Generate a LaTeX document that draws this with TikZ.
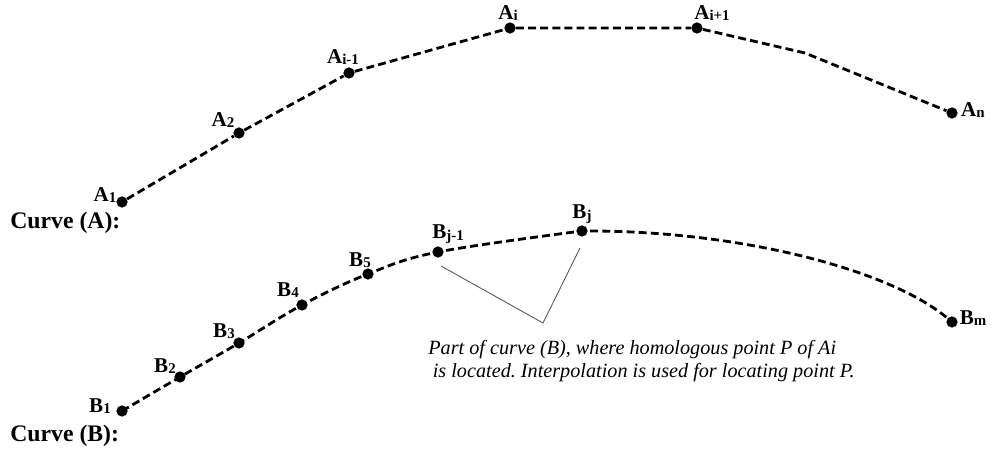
\documentclass[tikz,border=0pt]{standalone}
\usepackage{fontspec}
\setmainfont{Liberation Serif}
\usetikzlibrary{positioning}

\newcommand{\ptlab}[2]{#1\raisebox{-0.15ex}{\fontsize{8.5}{8.5}\selectfont #2}}

\begin{document}
\frenchspacing
\begin{tikzpicture}[x=0.02cm, y=-0.02cm,
    dot/.style={circle, fill=black, inner sep=0pt, minimum size=6.4pt},
    lbl/.style={font=\bfseries\fontsize{12}{12}\selectfont, inner sep=0pt},
    curveline/.style={line width=1.6pt, dash pattern=on 4.5pt off 2.4pt},
    ttl/.style={font=\bfseries\fontsize{13.5}{13.5}\selectfont, inner sep=0pt, anchor=west}]
    \useasboundingbox (0, 0) rectangle (992, 452);

    % curve (A)
    \node[dot] (A1) at (122, 202) {};
    \node[dot] (A2) at (239, 133) {};
    \node[dot] (Ai1) at (349, 73) {};
    \node[dot] (Ai) at (510, 28) {};
    \node[dot] (Aip) at (697, 28) {};
    \coordinate (ak) at (805, 53);
    \node[dot] (An) at (952, 113) {};

    \node[lbl] (lA1) at (105, 195) {\ptlab{A}{1}};
    \node[lbl] (lA2) at (223, 120) {\ptlab{A}{2}};
    \node[lbl] (lAi1) at (343, 57) {\ptlab{A}{i-1}};
    \node[lbl] (lAi) at (508, 13) {\ptlab{A}{i}};
    \node[lbl] (lAip) at (712, 13) {\ptlab{A}{i+1}};
    \node[lbl] (lAn) at (973, 110) {\ptlab{A}{n}};

    \draw[curveline] (A1) -- (A2) -- (Ai1) -- (Ai) -- (Aip) -- (ak) -- (An);

    % curve (B)
    \node[dot] (B1) at (122, 411) {};
    \node[dot] (B2) at (180, 377) {};
    \node[dot] (B3) at (239, 343) {};
    \node[dot] (B4) at (302, 305) {};
    \node[dot] (B5) at (368, 274) {};
    \node[dot] (Bj1) at (438, 252) {};
    \node[dot] (Bj) at (582, 231) {};
    \coordinate (bq1) at (740, 230);
    \coordinate (bq2) at (890, 270);
    \node[dot] (Bm) at (952, 322) {};

    \node[lbl] (lB1) at (100, 406) {\ptlab{B}{1}};
    \node[lbl] (lB2) at (165, 366) {\ptlab{B}{2}};
    \node[lbl] (lB3) at (224, 331) {\ptlab{B}{3}};
    \node[lbl] (lB4) at (288, 290) {\ptlab{B}{4}};
    \node[lbl] (lB5) at (360, 260) {\ptlab{B}{5}};
    \node[lbl] (lBj1) at (448, 234) {\ptlab{B}{j-1}};
    \node[lbl] (lBj) at (582, 214) {\ptlab{B}{j}};
    \node[lbl] (lBm) at (973, 318) {\ptlab{B}{m}};

    \draw[curveline] plot[smooth, tension=0.6] coordinates {(B1) (B2) (B3) (B4) (B5) (Bj1) (Bj)}
        .. controls (bq1) and (bq2) .. (Bm);

    \node[ttl] (cA) at (10, 223) {Curve (A):};
    \node[ttl] (cB) at (10, 436) {Curve (B):};

    % bracket and note
    \coordinate (br1) at (441, 266);
    \coordinate (br2) at (543, 323);
    \coordinate (br3) at (580, 248);
    \draw[gray!70!black, line width=0.5pt] (br1) -- (br2) -- (br3);

    \node[anchor=west, align=left, inner sep=0pt, font=\itshape\fontsize{11.5}{13.2}\selectfont] (note) at (428, 361)
        {Part of curve (B), where homologous point P of Ai\\\hspace{0.9mm}is located. Interpolation is used for locating point P.};
\end{tikzpicture}
\end{document}
